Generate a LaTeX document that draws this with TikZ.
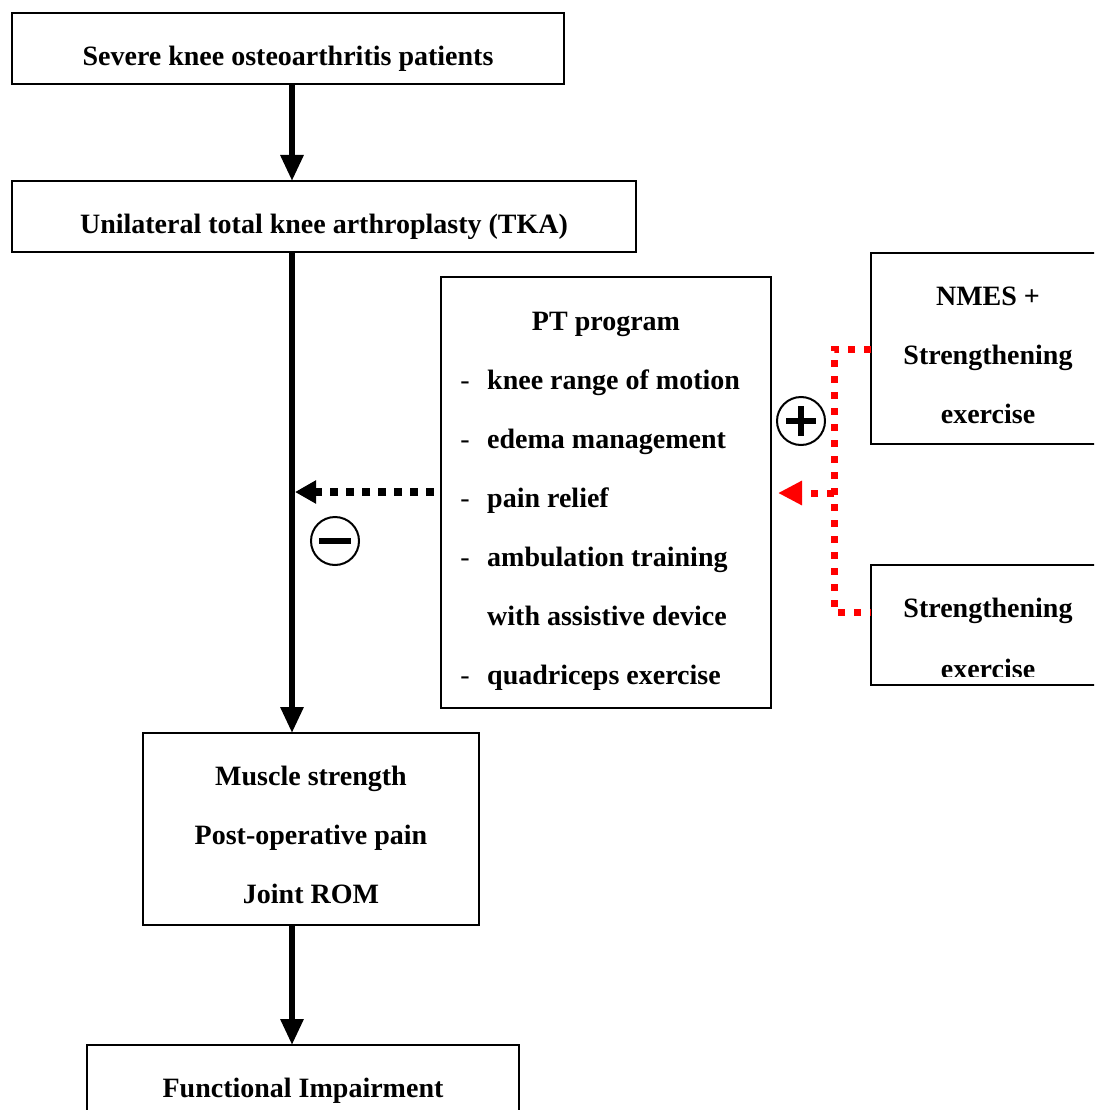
\documentclass[tikz,border=0pt]{standalone}
\usepackage{fontspec}
\setmainfont{Liberation Serif}
\usetikzlibrary{arrows.meta}
\begin{document}
\begin{tikzpicture}[x=1pt,y=-1pt,
  box/.style={draw,line width=2pt,inner sep=0pt,outer sep=0pt},
  txt/.style={font=\fontsize{28}{34}\selectfont\bfseries,anchor=base,inner sep=0pt},
  itm/.style={txt,anchor=base west},
  hyph/.style={font=\fontsize{28}{34}\selectfont,anchor=base,inner sep=0pt},
  flow/.style={line width=6pt,-{Triangle[width=22pt,length=26pt]}},
  blackdots/.style={line width=8pt,dash pattern=on 8pt off 8pt,-{Triangle[width=22pt,length=21pt]}},
  reddots/.style={red,line width=7pt,dash pattern=on 7pt off 9pt},
  sign/.style={draw,circle,line width=2pt,minimum size=48pt,inner sep=0pt,outer sep=0pt},
]
\fill[white] (0,0) rectangle (1094,1110);
\useasboundingbox (0,0) rectangle (1094,1110);
\clip (0,0) rectangle (1094,1110);

% boxes
\node[box,minimum width=552pt,minimum height=71pt] (b1) at (288,48.5) {};
\node[box,minimum width=624pt,minimum height=71pt] (b2) at (324,216.5) {};
\node[box,minimum width=330pt,minimum height=431pt] (pt) at (606,492.5) {};
\node[box,minimum width=232pt,minimum height=191pt] (nmes) at (987,348.5) {};
\node[box,minimum width=232pt,minimum height=120pt] (str) at (987,625) {};
\node[box,minimum width=336pt,minimum height=192pt] (mus) at (311,829) {};
\node[box,minimum width=432pt,minimum height=85pt] (fun) at (303,1087.5) {};

% texts
\node[txt] (t1) at (288,66) {Severe knee osteoarthritis patients};
\node[txt] (t2) at (324,233) {Unilateral total knee arthroplasty (TKA)};

\node[txt] (pt0) at (606,330) {PT program};
\node[hyph] (h1) at (465,389) {-};
\node[itm] (pt1) at (487,389) {knee range of motion};
\node[hyph] (h2) at (465,448) {-};
\node[itm] (pt2) at (487,448) {edema management};
\node[hyph] (h3) at (465,507) {-};
\node[itm] (pt3) at (487,507) {pain relief};
\node[hyph] (h4) at (465,566) {-};
\node[itm] (pt4) at (487,566) {ambulation training};
\node[itm] (pt5) at (487,625) {with assistive device};
\node[hyph] (h6) at (465,684) {-};
\node[itm] (pt6) at (487,684) {quadriceps exercise};

\node[txt] (n1) at (988,305) {NMES +};
\node[txt] (n2) at (988,364) {Strengthening};
\node[txt] (n3) at (988,423) {exercise};

\node[txt] (s1) at (988,617) {Strengthening};
\begin{scope}
  \clip (873,630) rectangle (1094,676);
  \node[txt] (s2) at (988,678) {exercise};
\end{scope}

\node[txt] (m1) at (311,785) {Muscle strength};
\node[txt] (m2) at (311,844) {Post-operative pain};
\node[txt] (m3) at (311,903) {Joint ROM};

\node[txt] (f1) at (303,1097) {Functional Impairment};

% main flow
\coordinate (spine) at (292,0);
\draw[flow] (b1.south -| spine) -- (b2.north -| spine);
\draw[flow] (b2.south -| spine) -- (mus.north -| spine);
\draw[flow] (mus.south -| spine) -- (fun.north -| spine);

% inhibition from PT program
\coordinate (bdstart) at (434,492);
\coordinate (bdend) at (295,492);
\draw[blackdots] (bdstart) -- (bdend);
\node[sign] (minus) at (335,541) {};
\draw[line width=6pt] ([xshift=-16pt]minus.center) -- ([xshift=16pt]minus.center);

% red dotted bracket
\coordinate (rtop) at (834,349);
\coordinate (rbot) at (834,612);
\coordinate (rmid) at (834,493);
\draw[reddots] (nmes.west |- rtop) -- (rtop) -- (rbot) -- (str.west |- rbot);
\draw[reddots,-{Triangle[width=23pt,length=24pt]}] (rmid) -- ([xshift=7pt]pt.east |- rmid);
\node[sign] (plus) at (801,421) {};
\draw[line width=6pt] ([xshift=-15pt]plus.center) -- ([xshift=15pt]plus.center);
\draw[line width=6pt] ([yshift=-15pt]plus.center) -- ([yshift=15pt]plus.center);
\end{tikzpicture}
\end{document}
